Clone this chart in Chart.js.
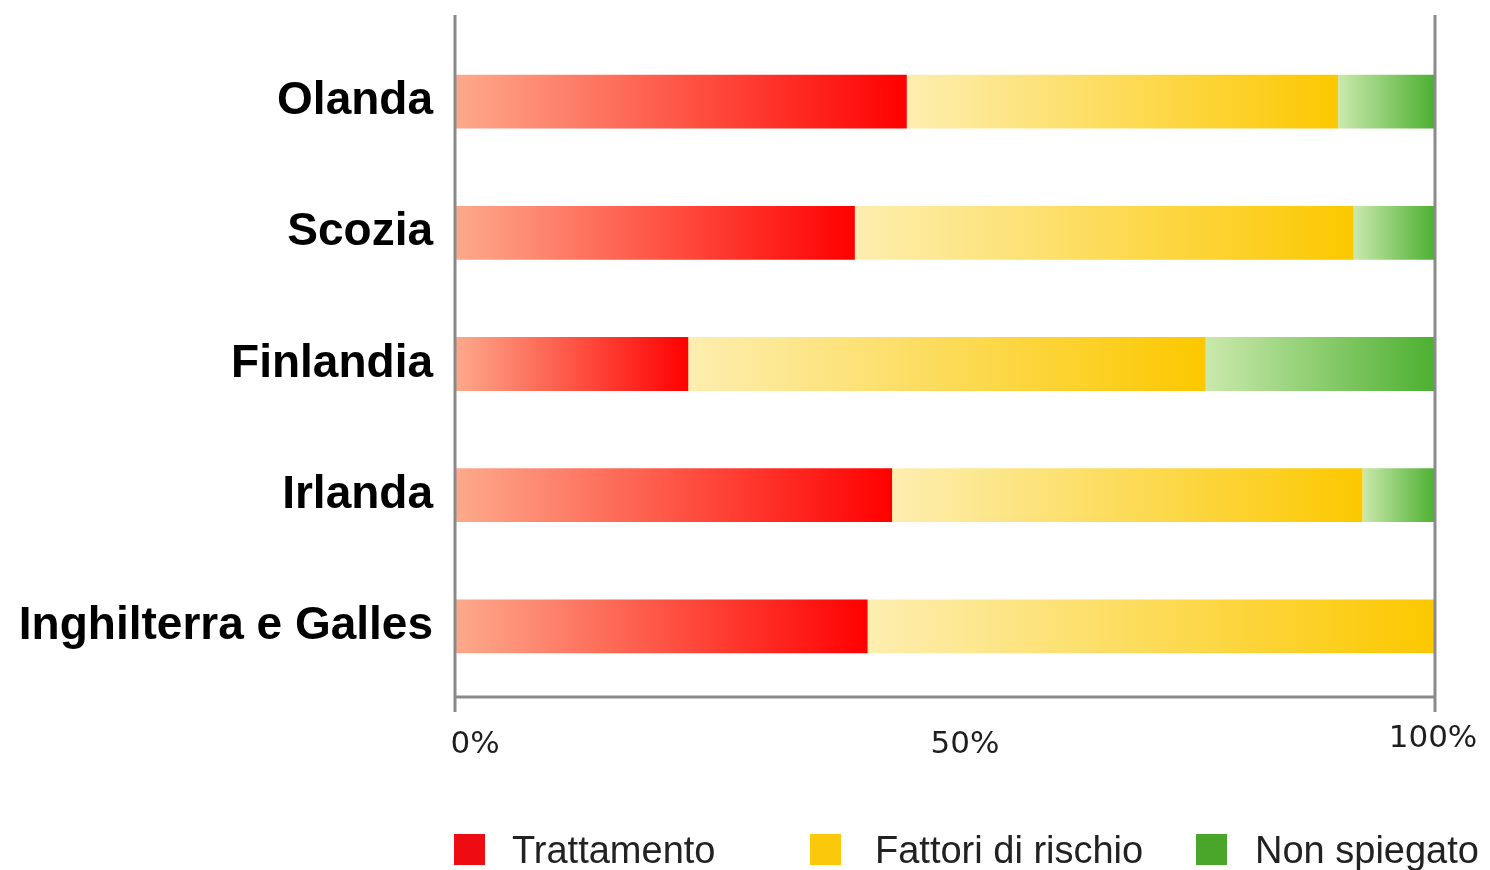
<!DOCTYPE html>
<html>
<head>
<meta charset="utf-8">
<script src="https://cdn.jsdelivr.net/npm/chart.js@4"></script>
<style>
	body { margin: 0; background: #fff; }
	#wrap { position: relative; width: 1490px; height: 870px; }
	#legend .sq { position: absolute; width: 31px; height: 31px; top: 834px; }
	#legend .txt { position: absolute; top: 831px; font: 38px "Liberation Sans", Arial, sans-serif; line-height: 38px; color: #222; white-space: nowrap; }
</style>
</head>
<body>
<div id="wrap">
	<canvas id="chart" width="1490" height="870"></canvas>
	<div id="legend"></div>
</div>
<script>
const countries = ['Olanda', 'Scozia', 'Finlandia', 'Irlanda', 'Inghilterra e Galles']
const trattamento = [46.1, 40.8, 23.8, 44.6, 42.1]
const fattori = [44.0, 50.9, 52.8, 48.0, 57.9]
const nonSpiegato = [9.9, 8.3, 23.4, 7.4, 0]
const tickValues = [0, 50, 100]
const tickLabels = ['0%', '50%', '100%']

// gradient ends for every series: [light, full]
const shades = {
	'Trattamento': ['#fdaa8c', '#ff0000'],
	'Fattori di rischio': ['#fdeeb0', '#fcc800'],
	'Non spiegato': ['#cbe9ad', '#4cb030']
}
const legendColor = { 'Trattamento': '#ee0b12', 'Fattori di rischio': '#fcc80a', 'Non spiegato': '#4aa62a' }

function segmentFill(ctx) {
	const chart = ctx.chart
	const ds = chart.data.datasets[ctx.datasetIndex]
	const xs = chart.scales.x
	if (ctx.type !== 'data' || !xs) return shades[ds.label][1]
	let start = 0
	for (let i = 0; i < ctx.datasetIndex; i++) start += chart.data.datasets[i].data[ctx.dataIndex]
	const x0 = xs.getPixelForValue(start)
	const x1 = xs.getPixelForValue(start + ds.data[ctx.dataIndex])
	if (!(x1 > x0)) return shades[ds.label][1]
	const g = chart.ctx.createLinearGradient(x0, 0, x1, 0)
	g.addColorStop(0, shades[ds.label][0])
	g.addColorStop(1, shades[ds.label][1])
	return g
}

const axisLines = {
	id: 'axisLines',
	afterDraw(chart) {
		const c = chart.ctx, xs = chart.scales.x, a = chart.chartArea
		const left = xs.getPixelForValue(0), right = xs.getPixelForValue(100)
		c.save()
		c.strokeStyle = '#8a8a8a'
		c.lineWidth = 3
		c.beginPath()
		c.moveTo(left, a.top - 21); c.lineTo(left, a.bottom + 20)
		c.moveTo(right, a.top - 21); c.lineTo(right, a.bottom + 20)
		c.moveTo(left, a.bottom + 5); c.lineTo(right, a.bottom + 5)
		c.stroke()
		// tick labels, shifted like in the original
		c.fillStyle = '#1e1e1e'
		c.font = '31px "DejaVu Sans"'
		c.textAlign = 'center'
		c.textBaseline = 'middle'
		tickValues.forEach((v, i) => {
			const last = i == tickValues.length - 1
			c.fillText(tickLabels[i], xs.getPixelForValue(v) + (last ? -2 : 20), a.bottom + (last ? 47 : 53))
		})
		c.restore()
	}
}

const series = [
	['Trattamento', trattamento],
	['Fattori di rischio', fattori],
	['Non spiegato', nonSpiegato]
]

new Chart('chart', {
	type: 'bar',
	data: {
		labels: countries,
		datasets: series.map(s => ({
			label: s[0],
			data: s[1],
			backgroundColor: segmentFill,
			borderWidth: 0,
			categoryPercentage: 1,
			barPercentage: 0.41
		}))
	},
	options: {
		indexAxis: 'y',
		responsive: false,
		animation: false,
		layout: { padding: { top: 36, bottom: 178, left: 0, right: 55 } },
		plugins: { legend: { display: false }, tooltip: { enabled: false } },
		scales: {
			x: {
				stacked: true,
				min: 0,
				max: 100,
				display: false
			},
			y: {
				stacked: true,
				grid: { display: false, drawTicks: false },
				border: { display: false },
				afterFit: s => {
					s.width = 455
					s.paddingTop = 0
					s.paddingBottom = 0
				},
				ticks: {
					color: '#000',
					padding: 22,
					font: { family: '"Liberation Sans", Arial, sans-serif', size: 46, weight: 'bold' }
				}
			}
		}
	},
	plugins: [axisLines]
})

// legend under the chart
const legendPos = [[454, 512], [810, 875], [1196, 1255]]
let html = ''
series.forEach((s, i) => {
	html += `<div class="sq" style="left:${legendPos[i][0]}px;background:${legendColor[s[0]]}"></div>
	<div class="txt" style="left:${legendPos[i][1]}px">${s[0]}</div>`
})
document.getElementById('legend').innerHTML = html
</script>
</body>
</html>
